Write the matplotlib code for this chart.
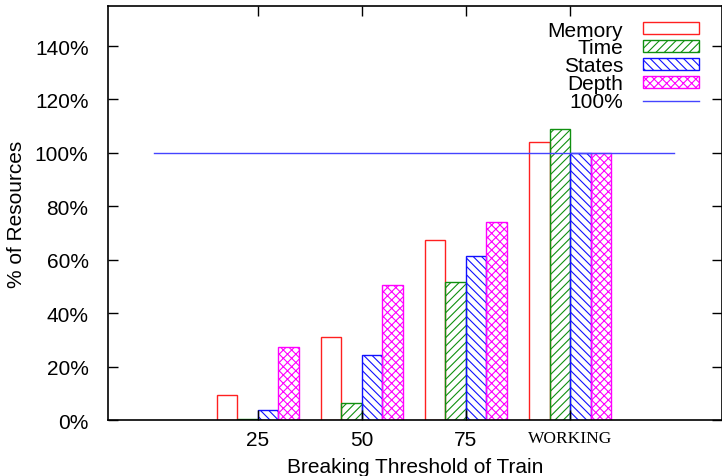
import numpy as np
import matplotlib.pyplot as plt

plt.rcParams['font.family'] = 'Liberation Sans'
plt.rcParams['hatch.linewidth'] = 0.8

categories = ['25', '50', '75', 'WORKING']
memory = [9.4, 31.0, 67.4, 104.0]
time = [0.5, 6.4, 51.7, 109.0]
states = [3.7, 24.3, 61.4, 100.0]
depth = [27.3, 50.5, 74.1, 100.0]

x = np.arange(1, len(categories) + 1)
w = 0.197

fig = plt.figure(figsize=(7.22, 4.77), dpi=100)
ax = fig.add_axes([0.1496, 0.1174, 0.8504, 0.868])

b1 = ax.bar(x - 1.5 * w, memory, w, facecolor='none', edgecolor='#ff2020', lw=1, label='Memory')
b2 = ax.bar(x - 0.5 * w, time, w, facecolor='none', edgecolor='#109010', hatch='////', lw=1, label='Time')
b3 = ax.bar(x + 0.5 * w, states, w, facecolor='none', edgecolor='#1010ff', hatch='\\\\\\\\', lw=1, label='States')
b4 = ax.bar(x + 1.5 * w, depth, w, facecolor='none', edgecolor='#ff00ff', hatch='xxxx', lw=1, label='Depth')
ln, = ax.plot([0, 5], [100, 100], color='#4444ff', lw=1, label='100%')

ax.set_xlim(-0.44, 5.46)
ax.set_ylim(0, 155)
ax.set_yticks(np.arange(0, 141, 20))
ax.set_yticklabels([f'{v}%' for v in range(0, 141, 20)], fontsize=15)
ax.set_xticks(x)
ax.set_xticklabels(categories[:3] + [''], fontsize=15)
ax.text(x[3], -6.9, 'WORKING', family='Liberation Serif', fontsize=12.5,
        ha='center', va='center', transform=ax.transData)
ax.tick_params(direction='in', length=7, top=True, right=True, width=1)
ax.tick_params(axis='y', pad=14)
ax.tick_params(axis='x', pad=7)
ax.set_ylabel('% of Resources', fontsize=15, labelpad=6)
ax.set_xlabel('Breaking Threshold of Train', fontsize=15, labelpad=6)
for s in ax.spines.values():
    s.set_linewidth(1.2)

ax.legend([b1, b2, b3, b4, ln], ['Memory', 'Time', 'States', 'Depth', '100%'],
          loc='upper right', bbox_to_anchor=(0.983, 0.995), frameon=False, markerfirst=False,
          fontsize=15, labelspacing=-0.05, handlelength=2.7, handleheight=0.5,
          handletextpad=0.95, borderaxespad=0.2)

fig.savefig('out.png', dpi=100)
